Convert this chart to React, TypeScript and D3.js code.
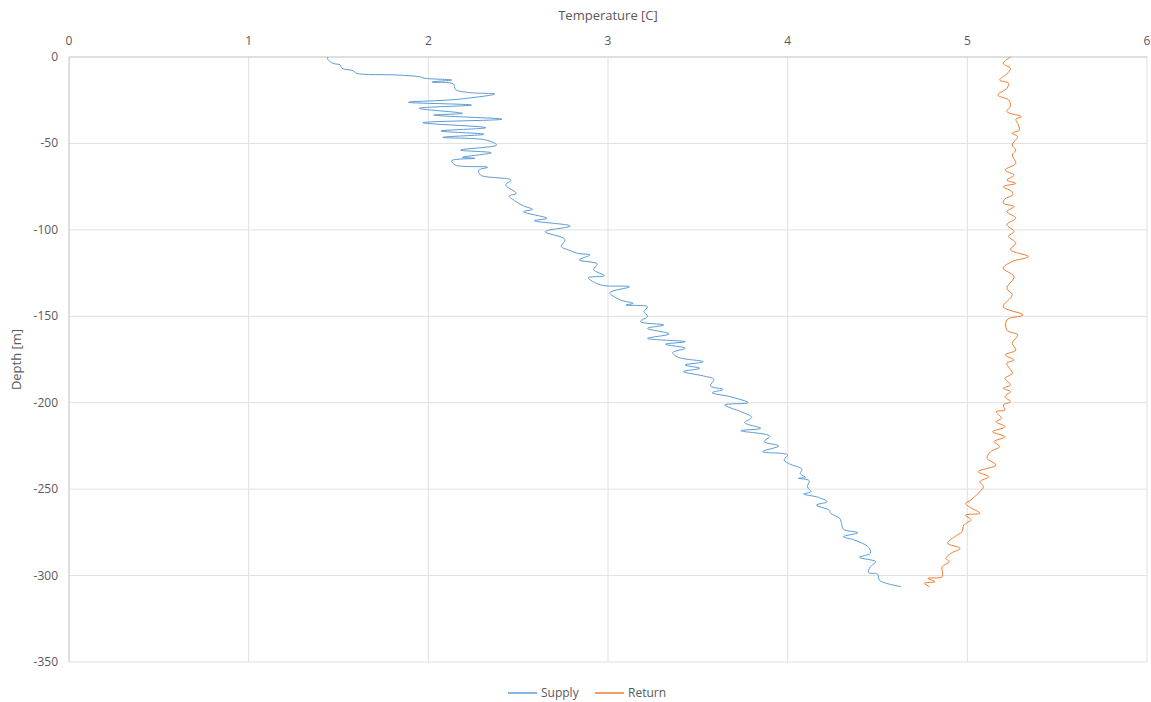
import { useEffect } from "react";
import * as d3 from "d3";

// depth [m] / temperature [C]
const supplyDepth = [
  0, -1.3, -3.7, -4.6, -6.6, -7.9, -9.4, -10.4, -11.4, -12.3, -13.3, -14.5, -15.6, -18.7, -20.6,
  -21.4, -24.5, -26.2, -27.8, -29.7, -32.6, -33.6, -36.0, -38.0, -40.9, -42.8, -44.7, -46.5, -48.0,
  -50.9, -53.8, -55.4, -58.0, -58.6, -60.0, -62.5, -63.8, -65.5, -68.3, -71.2, -74.0, -78.9, -80.4,
  -83.1, -86.2, -88.1, -89.5, -93.3, -94.7, -97.8, -101.1, -105.5, -109.7, -111.6, -113.6, -114.5,
  -117.4, -119.7, -123, -126.5, -127.7, -131.9, -132.9, -136.4, -140.6, -142.5, -143.5, -144.5,
  -147.3, -150, -153.1, -155, -157, -160.2, -162.8, -164.7, -166.2, -168.5, -171, -173.7, -176.3,
  -178.2, -180.1, -182, -184.5, -186.5, -190.3, -192.3, -194.2, -196.5, -200, -201.3, -205.2, -208.5,
  -211.5, -214.8, -216.2, -219.3, -222.5, -225, -228.3, -230.2, -233.1, -235.4, -238.5, -241, -243.2,
  -243.7, -245.1, -248.6, -251.5, -252.8, -254.7, -257.3, -259.2, -262.1, -264, -266.9, -270, -273.2,
  -275.2, -277.5, -279.4, -283.6, -287.1, -289.4, -292, -294.9, -298.3, -299.1, -302.6, -304.5, -306.4,
];
const supplyTemp = [
  1.44, 1.44, 1.47, 1.51, 1.52, 1.58, 1.6, 1.82, 1.95, 1.98, 2.13, 2.02, 2.14, 2.15, 2.23,
  2.37, 2.16, 1.89, 2.24, 1.95, 2.19, 2.03, 2.41, 1.97, 2.32, 2.07, 2.31, 2.08, 2.32,
  2.38, 2.18, 2.35, 2.19, 2.26, 2.13, 2.15, 2.33, 2.28, 2.29, 2.46, 2.43, 2.49, 2.45,
  2.48, 2.53, 2.58, 2.53, 2.66, 2.59, 2.79, 2.65, 2.76, 2.74, 2.78, 2.83, 2.9,
  2.84, 2.94, 2.92, 2.98, 2.89, 2.96, 3.12, 3.01, 3.07, 3.14, 3.1, 3.22,
  3.2, 3.22, 3.18, 3.31, 3.22, 3.34, 3.22, 3.43, 3.32, 3.43, 3.36, 3.39, 3.53,
  3.43, 3.51, 3.42, 3.53, 3.59, 3.57, 3.64, 3.58, 3.68, 3.78, 3.65, 3.74, 3.8,
  3.76, 3.85, 3.74, 3.9, 3.87, 3.95, 3.86, 4.0, 3.98, 4.01, 4.08, 4.07, 4.1,
  4.06, 4.12, 4.11, 4.13, 4.09, 4.17, 4.22, 4.16, 4.23, 4.24, 4.29, 4.3, 4.31,
  4.39, 4.31, 4.37, 4.45, 4.46, 4.4, 4.49, 4.46, 4.45, 4.5, 4.51, 4.55, 4.63,
];

const returnDepth = [
  0, -3.7, -6.6, -9.8, -13.3, -15.2, -18.1, -22, -24.9, -28.3, -31.6, -34.5, -36, -38.4, -42.2,
  -44.1, -46, -50.9, -53.8, -56.7, -61.5, -65.4, -68.3, -71.2, -73.1, -75, -78, -80, -82, -84.6,
  -86.5, -89.4, -93.2, -97, -100.9, -103.8, -107.6, -111.5, -115.5, -118.3, -122.2, -127, -133.8,
  -137.6, -144.5, -149.2, -152.1, -158, -160.8, -165.6, -169.5, -172.4, -175.3, -177.2, -183,
  -185.9, -189.7, -191.7, -193.6, -196.5, -199.4, -201.3, -204.2, -205.2, -209, -211, -213.9,
  -216.8, -219.7, -222.5, -225.4, -228.3, -232.2, -236, -239.9, -242.8, -245.7, -248.6, -252.4,
  -256.3, -258.2, -260.2, -264, -265, -267.8, -270.7, -274.6, -277.5, -281.3, -284.2, -287.1,
  -290, -292, -294.9, -300.6, -301.6, -303.5, -304.5, -306.4,
];
const returnTemp = [
  5.24, 5.2, 5.24, 5.22, 5.18, 5.23, 5.22, 5.17, 5.23, 5.24, 5.22, 5.3, 5.27, 5.28, 5.29,
  5.25, 5.28, 5.25, 5.27, 5.25, 5.27, 5.21, 5.26, 5.22, 5.27, 5.2, 5.25, 5.25, 5.21, 5.2,
  5.26, 5.22, 5.27, 5.22, 5.26, 5.23, 5.27, 5.24, 5.34, 5.25, 5.2, 5.26, 5.22,
  5.25, 5.2, 5.31, 5.22, 5.22, 5.28, 5.25, 5.27, 5.21, 5.26, 5.22, 5.25,
  5.21, 5.24, 5.2, 5.24, 5.21, 5.24, 5.2, 5.21, 5.16, 5.19, 5.16, 5.21,
  5.14, 5.21, 5.15, 5.18, 5.13, 5.11, 5.16, 5.06, 5.12, 5.07, 5.09, 5.06,
  5.02, 4.99, 5.01, 5.07, 4.99, 5.02, 4.98, 4.97, 4.93, 4.89, 4.96, 4.91,
  4.88, 4.9, 4.86, 4.86, 4.78, 4.82, 4.76, 4.79,
];

const series = [
  { name: "Supply", color: "#5B9BD5", depth: supplyDepth, temp: supplyTemp },
  { name: "Return", color: "#ED7D31", depth: returnDepth, temp: returnTemp },
];

const xTicks = [0, 1, 2, 3, 4, 5, 6];
const yTicks = [0, -50, -100, -150, -200, -250, -300, -350];

const W = 1151;
const H = 702;
const margin = { top: 57, right: 4, bottom: 40, left: 69 };
const font = "'Open Sans', 'Noto Sans', sans-serif";
const textColor = "#595959";

export default function App() {
  useEffect(() => {
    document.body.style.margin = "0";
  }, []);

  const x = d3.scaleLinear().domain([0, 6]).range([margin.left, W - margin.right]);
  const y = d3.scaleLinear().domain([0, -350]).range([margin.top, H - margin.bottom]);

  const line = d3
    .line<[number, number]>()
    .x((d) => x(d[0]))
    .y((d) => y(d[1]))
    .curve(d3.curveCatmullRom.alpha(0.5));

  const legendY = 693;
  const legendX = [508, 595];

  return (
    <svg width={W} height={H} style={{ display: "block" }} fontFamily={font}>
      <rect width={W} height={H} fill="#fff" />
      {/* grid */}
      {xTicks.slice(1).map((t) => (
        <line key={"gx" + t} x1={x(t)} x2={x(t)} y1={y(0)} y2={y(-350)} stroke="#e0e0e0" strokeWidth={1} />
      ))}
      {yTicks.slice(1).map((t) => (
        <line key={"gy" + t} x1={x(0)} x2={x(6)} y1={y(t)} y2={y(t)} stroke="#e0e0e0" strokeWidth={1} />
      ))}
      {/* axes */}
      <line x1={x(0)} x2={x(6)} y1={y(0)} y2={y(0)} stroke="#bfbfbf" strokeWidth={1} />
      <line x1={x(0)} x2={x(0)} y1={y(0)} y2={y(-350)} stroke="#bfbfbf" strokeWidth={1} />
      {xTicks.map((t) => (
        <text key={"tx" + t} x={x(t)} y={y(0) - 12} textAnchor="middle" fontSize={12} fill={textColor}>
          {t}
        </text>
      ))}
      {yTicks.map((t) => (
        <text key={"ty" + t} x={x(0) - 11} y={y(t) + 4} textAnchor="end" fontSize={12} fill={textColor}>
          {t}
        </text>
      ))}
      <text x={(x(0) + x(6)) / 2} y={20} textAnchor="middle" fontSize={13} fill={textColor}>
        Temperature [C]
      </text>
      <text
        transform={`translate(21,${(y(0) + y(-350)) / 2}) rotate(-90)`}
        textAnchor="middle"
        fontSize={13}
        fill={textColor}
      >
        Depth [m]
      </text>
      {/* series */}
      {series.map((s) => (
        <path
          key={s.name}
          d={line(s.depth.map((d, i) => [s.temp[i], d] as [number, number])) ?? ""}
          fill="none"
          stroke={s.color}
          strokeWidth={1}
          strokeLinejoin="round"
        />
      ))}
      {/* legend */}
      {series.map((s, i) => (
        <g key={"lg" + s.name} transform={`translate(${legendX[i]},${legendY})`}>
          <line x1={0} x2={29} y1={0} y2={0} stroke={s.color} strokeWidth={1.5} />
          <text x={33} y={4} fontSize={12} fill={textColor}>
            {s.name}
          </text>
        </g>
      ))}
    </svg>
  );
}
